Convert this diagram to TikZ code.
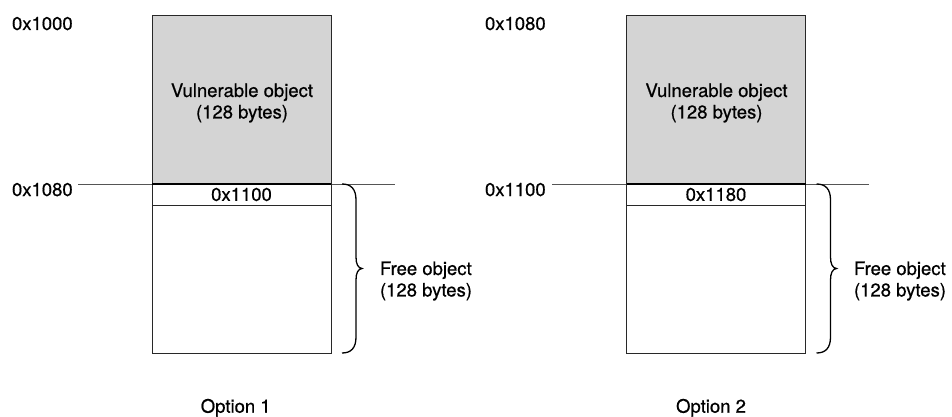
\documentclass[tikz,border=0pt]{standalone}
\usepackage{fontspec}
\setmainfont{TeX Gyre Heros}[FakeBold=0.6]
\definecolor{boxgray}{RGB}{212,212,212}
\definecolor{linegray}{RGB}{85,85,85}
\definecolor{edgegray}{RGB}{40,40,40}
\tikzset{
  txt/.style={font=\fontsize{18.5}{21.5}\selectfont, inner sep=0pt, outer sep=0pt},
  mem/.style={draw=edgegray, line width=0.9pt, inner sep=0pt, outer sep=0pt, minimum width=179pt},
  vuln/.style={mem, fill=boxgray, minimum height=169pt},
  hdr/.style={mem, txt, minimum height=21pt},
  freebox/.style={mem, minimum height=148pt},
  addr/.style={txt, anchor=base west},
  sepline/.style={draw=linegray, line width=0.9pt},
  bracepath/.style={draw=black, line width=1.3pt},
}
\begin{document}
\begin{tikzpicture}[x=1pt,y=-1pt]
\useasboundingbox (0,0) rectangle (952,417);
\fill[white] (0,0) rectangle (952,417);

% ---------- Option 1 ----------
\coordinate (la1) at (78,184);
\coordinate (lb1) at (395,184);
\draw[sepline] (la1) -- (lb1);
\node[vuln] (v1) at (241.5,99.5) {};
\node[txt, align=center] (vt1) at (242,103) {Vulnerable object\\(128 bytes)};
\node[hdr] (h1) at (241.5,194.5) {0x1100};
\node[freebox] (f1) at (241.5,279) {};
\draw[line width=1.6pt] (v1.south west) -- (v1.south east);
\node[addr] (a10) at (12,30) {0x1000};
\node[addr] (a11) at (12,196) {0x1080};
\draw[bracepath] (342,184) .. controls (351,184) and (356,189) .. (356,200)
  -- (356,257) .. controls (356,264) and (358,268) .. (362,268.5)
  .. controls (358,269) and (356,273) .. (356,280)
  -- (356,337) .. controls (356,348) and (351,353) .. (342,353);
\node[txt, anchor=north west, align=left] (fr1) at (380,261.5) {Free object\\(128 bytes)};
\node[txt, anchor=base] (o1) at (235.7,412.7) {Option 1};

% ---------- Option 2 ----------
\coordinate (la2) at (552,184);
\coordinate (lb2) at (869,184);
\draw[sepline] (la2) -- (lb2);
\node[vuln] (v2) at (716,99.5) {};
\node[txt, align=center] (vt2) at (716.5,103) {Vulnerable object\\(128 bytes)};
\node[hdr] (h2) at (716,194.5) {0x1180};
\node[freebox] (f2) at (716,279) {};
\draw[line width=1.6pt] (v2.south west) -- (v2.south east);
\node[addr] (a20) at (485,30) {0x1080};
\node[addr] (a21) at (485,196) {0x1100};
\draw[bracepath] (816.5,184) .. controls (825.5,184) and (830.5,189) .. (830.5,200)
  -- (830.5,257) .. controls (830.5,264) and (832.5,268) .. (836.5,268.5)
  .. controls (832.5,269) and (830.5,273) .. (830.5,280)
  -- (830.5,337) .. controls (830.5,348) and (825.5,353) .. (816.5,353);
\node[txt, anchor=north west, align=left] (fr2) at (854,261.5) {Free object\\(128 bytes)};
\node[txt, anchor=base] (o2) at (711,412.7) {Option 2};
\end{tikzpicture}
\end{document}
